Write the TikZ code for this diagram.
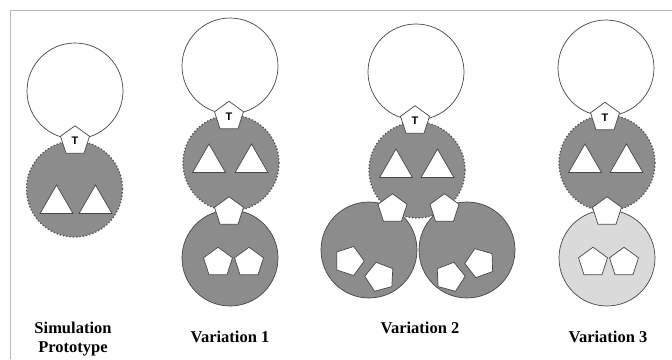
\documentclass[tikz,border=0pt]{standalone}
\usepackage{fontspec}
\setmainfont{Liberation Serif}
\newfontfamily\tfont{Liberation Sans}
\usetikzlibrary{shapes.geometric}
\definecolor{midgray}{RGB}{140,140,140}
\definecolor{lightfill}{RGB}{218,218,218}
\definecolor{edgegray}{RGB}{70,70,70}
\definecolor{dotedge}{RGB}{80,80,80}
\definecolor{framegray}{RGB}{185,185,185}
\tikzset{
  opencirc/.style={circle, draw=edgegray, fill=white, line width=0.7pt, minimum size=96pt, inner sep=0pt},
  dotcirc/.style={circle, draw=dotedge, fill=midgray, dotted, line width=1.3pt, minimum size=96pt, inner sep=0pt},
  solidcirc/.style={circle, draw=edgegray, fill=midgray, line width=0.7pt, minimum size=96pt, inner sep=0pt},
  lightcirc/.style={circle, draw=edgegray, fill=lightfill, line width=0.7pt, minimum size=96pt, inner sep=0pt},
  pent/.style={regular polygon, regular polygon sides=5, draw=edgegray, fill=white, line width=0.7pt, minimum size=30.5pt, inner sep=0pt, font=\tfont\bfseries\fontsize{11}{11}\selectfont},
  tri/.style={regular polygon, regular polygon sides=3, draw=edgegray, fill=white, line width=0.7pt, minimum size=38pt, inner sep=0pt},
  caption/.style={font=\bfseries\fontsize{16.5}{19}\selectfont, align=center, inner sep=0pt},
  framerule/.style={draw=framegray, line width=1.6pt}
}
\begin{document}
\begin{tikzpicture}[x=1pt,y=-1pt]
\useasboundingbox (0,0) rectangle (672,359);
% frame (top and left edges)
\coordinate (fl) at (10.5,359);
\coordinate (fc) at (10.5,10.5);
\coordinate (fr) at (672,10.5);
\draw[framerule] (fl) -- (fc) -- (fr);

% ---------- Simulation Prototype ----------
\node[opencirc] (w0) at (75,91) {};
\node[dotcirc] (g0) at (74.5,189) {};
\node[tri] (t0a) at (56.5,204) {};
\node[tri] (t0b) at (95.5,204) {};
\node[pent] (p0) at (75,141) {T};
\node[caption] (c0) at (73,339) {Simulation\\Prototype};

% ---------- Variation 1 ----------
\node[opencirc] (w1) at (230,66) {};
\node[dotcirc] (g1) at (231,163) {};
\node[solidcirc] (b1) at (230,258) {};
\node[tri] (t1a) at (209,163) {};
\node[tri] (t1b) at (251.5,163) {};
\node[pent] (p1) at (229,116.5) {T};
\node[pent] (q1) at (229,212) {};
\node[pent] (r1a) at (218,262.5) {};
\node[pent] (r1b) at (249,262.5) {};
\node[caption] (c1) at (230,336.5) {Variation 1};

% ---------- Variation 2 ----------
\node[opencirc] (w2) at (416,72) {};
\node[dotcirc] (g2) at (417,170) {};
\node[solidcirc] (b2l) at (369,250) {};
\node[solidcirc] (b2r) at (467,250) {};
\node[tri] (t2a) at (396,168) {};
\node[tri] (t2b) at (437.5,168) {};
\node[pent] (p2) at (415,121) {T};
\node[pent] (q2a) at (392.5,209) {};
\node[pent] (q2b) at (444.5,209) {};
\node[pent, rotate=-18] (r2a) at (349,261) {};
\node[pent, rotate=15] (r2b) at (380,277) {};
\node[pent, rotate=-15] (r2c) at (450,277) {};
\node[pent, rotate=20] (r2d) at (480,263) {};
\node[caption] (c2) at (420,328) {Variation 2};

% ---------- Variation 3 ----------
\node[opencirc] (w3) at (606,68) {};
\node[dotcirc] (g3) at (607,163) {};
\node[lightcirc] (b3) at (607,258) {};
\node[tri] (t3a) at (585,163) {};
\node[tri] (t3b) at (626.5,163) {};
\node[pent] (p3) at (605,117.5) {T};
\node[pent] (q3) at (607,212) {};
\node[pent] (r3a) at (593,262.5) {};
\node[pent] (r3b) at (624,262.5) {};
\node[caption] (c3) at (608,336.5) {Variation 3};
\end{tikzpicture}
\end{document}
